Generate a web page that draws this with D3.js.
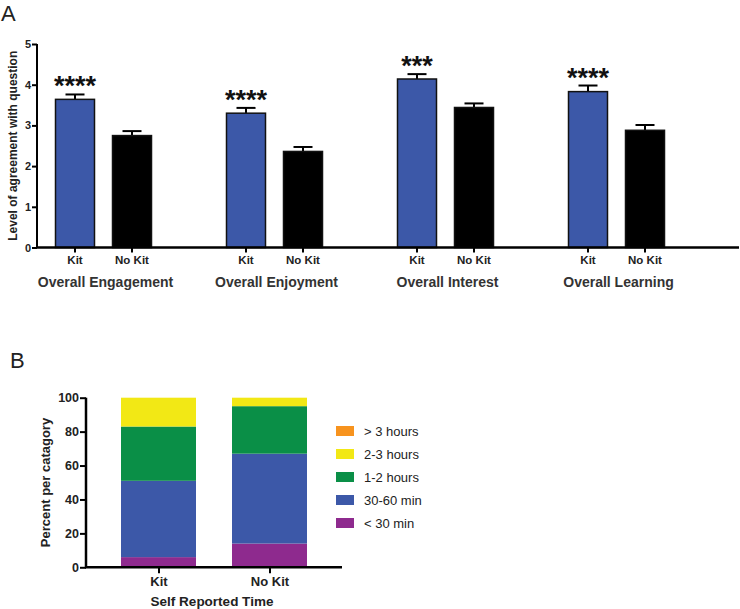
<!DOCTYPE html>
<html>
<head>
<meta charset="utf-8">
<script src="https://cdn.jsdelivr.net/npm/d3@7"></script>
<style>
  html, body { margin: 0; padding: 0; background: #fff; }
  svg { display: block; font-family: "Liberation Sans", Arial, sans-serif; }
</style>
</head>
<body>
<svg id="chart" width="740" height="609"></svg>
<script>
// ---------- Panel A data ----------
const measures = ["Overall Engagement", "Overall Enjoyment", "Overall Interest", "Overall Learning"];
const groups = ["Kit", "No Kit"];
const kitMeans = [3.64, 3.30, 4.14, 3.83];
const kitErrors = [0.12, 0.13, 0.12, 0.15];
const noKitMeans = [2.75, 2.36, 3.44, 2.88];
const noKitErrors = [0.11, 0.11, 0.10, 0.13];
const significance = ["****", "****", "***", "****"];
const yTicksA = [0, 1, 2, 3, 4, 5];

// ---------- Panel B data ----------
const timeGroups = ["Kit", "No Kit"];
const timeCategories = ["< 30 min", "30-60 min", "1-2 hours", "2-3 hours", "> 3 hours"];
const lessThan30 = [6, 14];
const min30to60 = [45, 53];
const hours1to2 = [32, 28];
const hours2to3 = [17, 5];
const over3hours = [0, 0];
const yTicksB = [0, 20, 40, 60, 80, 100];

const svg = d3.select("#chart");
const blue = "#3c58a8";

// ================= Panel A =================
svg.append("text").attr("x", 1).attr("y", 21).attr("font-size", 22)
  .attr("fill", "#222").text("A");

const yA = d3.scaleLinear().domain([0, 5]).range([247.5, 44]);
const xOuter = d3.scalePoint().domain(measures).range([103.5, 616.5]);
const xInner = d3.scalePoint().domain(groups).range([-28.5, 28.5]);
const barW = 39;

const gA = svg.append("g");

const barsA = [];
measures.forEach((m, i) => {
  barsA.push({ m, g: "Kit", v: kitMeans[i], e: kitErrors[i], s: significance[i] });
  barsA.push({ m, g: "No Kit", v: noKitMeans[i], e: noKitErrors[i], s: null });
});

// error bars
barsA.forEach(d => {
  const cx = xOuter(d.m) + xInner(d.g);
  gA.append("line").attr("x1", cx).attr("x2", cx)
    .attr("y1", yA(d.v)).attr("y2", yA(d.v + d.e))
    .attr("stroke", "#000").attr("stroke-width", 2);
  gA.append("line").attr("x1", cx - 9.5).attr("x2", cx + 9.5)
    .attr("y1", yA(d.v + d.e)).attr("y2", yA(d.v + d.e))
    .attr("stroke", "#000").attr("stroke-width", 2);
});

gA.selectAll("rect.bar").data(barsA).enter().append("rect")
  .attr("class", "bar")
  .attr("x", d => xOuter(d.m) + xInner(d.g) - barW / 2)
  .attr("y", d => yA(d.v))
  .attr("width", barW)
  .attr("height", d => yA(0) - yA(d.v))
  .attr("fill", d => d.g === "Kit" ? blue : "#000")
  .attr("stroke", "#111").attr("stroke-width", 1.5);

// significance stars
barsA.filter(d => d.s).forEach(d => {
  const cx = xOuter(d.m) + xInner(d.g);
  gA.append("text").attr("x", cx).attr("y", yA(d.v + d.e) + 1)
    .attr("text-anchor", "middle").attr("font-size", 27).attr("font-weight", "bold")
    .attr("fill", "#111").text(d.s);
});

// y axis A
const yAxisA = d3.axisLeft(yA).tickValues(yTicksA).tickSize(5).tickFormat(d3.format("d"));
const gyA = svg.append("g").attr("transform", "translate(37,0)").call(yAxisA);
gyA.select(".domain").attr("stroke", "#000").attr("stroke-width", 2).attr("d", `M0,${yA(0)}V${yA(5)}`);
gyA.selectAll(".tick line").attr("stroke", "#000").attr("stroke-width", 2);
gyA.selectAll(".tick text").attr("font-size", 11).attr("font-weight", "bold").attr("fill", "#222").attr("x", -6);

// x axis A
const xLine = svg.append("g");
xLine.append("line").attr("x1", 36).attr("x2", 739).attr("y1", yA(0)).attr("y2", yA(0))
  .attr("stroke", "#000").attr("stroke-width", 2.5);
barsA.forEach(d => {
  const cx = xOuter(d.m) + xInner(d.g);
  xLine.append("line").attr("x1", cx).attr("x2", cx).attr("y1", yA(0)).attr("y2", yA(0) + 5)
    .attr("stroke", "#000").attr("stroke-width", 2);
  xLine.append("text").attr("x", cx).attr("y", 264).attr("text-anchor", "middle")
    .attr("font-size", 11.5).attr("font-weight", "bold").attr("fill", "#222").text(d.g);
});
measures.forEach(m => {
  xLine.append("text").attr("x", xOuter(m) + 2).attr("y", 287).attr("text-anchor", "middle")
    .attr("font-size", 14).attr("font-weight", "bold").attr("fill", "#333").text(m);
});

svg.append("text").attr("transform", `translate(17,${(yA(0) + yA(5)) / 2}) rotate(-90)`)
  .attr("text-anchor", "middle").attr("font-size", 12).attr("font-weight", "bold").attr("fill", "#222")
  .text("Level of agreement with question");

// ================= Panel B =================
svg.append("text").attr("x", 10).attr("y", 368).attr("font-size", 22)
  .attr("fill", "#222").text("B");

const yB = d3.scaleLinear().domain([0, 100]).range([567.3, 397.7]);
const xB = d3.scalePoint().domain(timeGroups).range([158.5, 269.5]);
const barWB = 75;
const colors = { "< 30 min": "#8e2a8e", "30-60 min": "#3c58a8", "1-2 hours": "#0a8f47", "2-3 hours": "#f2e815", "> 3 hours": "#f7931e" };

const tableB = timeGroups.map((g, i) => ({
  group: g,
  "< 30 min": lessThan30[i],
  "30-60 min": min30to60[i],
  "1-2 hours": hours1to2[i],
  "2-3 hours": hours2to3[i],
  "> 3 hours": over3hours[i]
}));
const stacked = d3.stack().keys(timeCategories)(tableB);

const gB = svg.append("g");
stacked.forEach(layer => {
  gB.selectAll(null).data(layer).enter().append("rect")
    .attr("x", d => xB(d.data.group) - barWB / 2)
    .attr("y", d => yB(d[1]))
    .attr("width", barWB)
    .attr("height", d => Math.max(0, yB(d[0]) - yB(d[1])))
    .attr("fill", colors[layer.key]);
});

const yAxisB = d3.axisLeft(yB).tickValues(yTicksB).tickSize(6).tickFormat(d3.format("d"));
const gyB = svg.append("g").attr("transform", "translate(86,0)").call(yAxisB);
gyB.select(".domain").attr("stroke", "#000").attr("stroke-width", 2.5).attr("d", `M0,${yB(0)}V${yB(100)}`);
gyB.selectAll(".tick line").attr("stroke", "#000").attr("stroke-width", 2);
gyB.selectAll(".tick text").attr("font-size", 12.5).attr("font-weight", "bold").attr("fill", "#222").attr("x", -7);

const xAxisB = d3.axisBottom(xB).tickSize(6);
const gxB = svg.append("g").attr("transform", `translate(0,${yB(0)})`).call(xAxisB);
gxB.select(".domain").attr("stroke", "#000").attr("stroke-width", 2.5).attr("d", "M85,0H342");
gxB.selectAll(".tick line").attr("stroke", "#000").attr("stroke-width", 2);
gxB.selectAll(".tick text").attr("font-size", 13).attr("font-weight", "bold").attr("fill", "#222").attr("dy", "0.95em").attr("y", 6);

svg.append("text").attr("x", 212).attr("y", 606).attr("text-anchor", "middle")
  .attr("font-size", 13.5).attr("font-weight", "bold").attr("fill", "#222").text("Self Reported Time");

svg.append("text").attr("transform", `translate(50,${(yB(0) + yB(100)) / 2}) rotate(-90)`)
  .attr("text-anchor", "middle").attr("font-size", 13).attr("font-weight", "bold").attr("fill", "#222")
  .text("Percent per catagory");

// legend
const legendOrder = timeCategories.slice().reverse();
const leg = svg.append("g").attr("transform", "translate(336,426)");
legendOrder.forEach((k, i) => {
  leg.append("rect").attr("x", 0).attr("y", i * 23).attr("width", 18).attr("height", 10).attr("fill", colors[k]);
  leg.append("text").attr("x", 28).attr("y", i * 23 + 10).attr("font-size", 13).attr("fill", "#222").text(k);
});
</script>
</body>
</html>
